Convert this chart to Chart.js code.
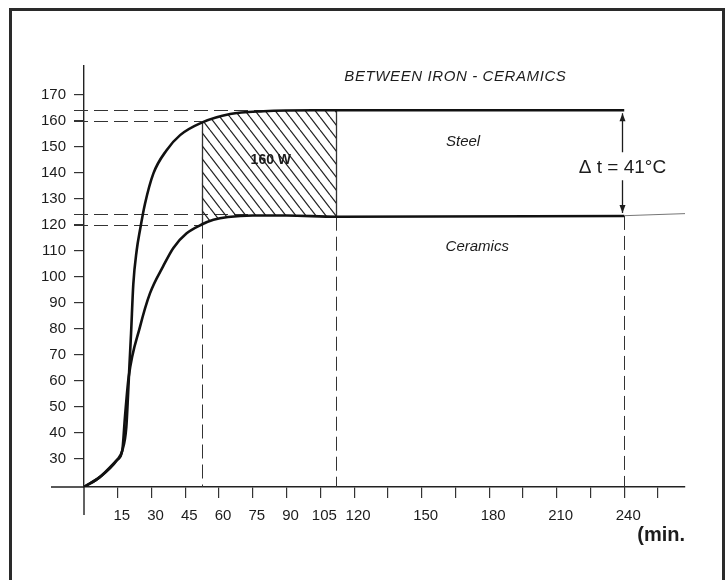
<!DOCTYPE html>
<html>
<head>
<meta charset="utf-8">
<title>Between iron - ceramics</title>
<script src="https://cdn.jsdelivr.net/npm/chart.js@4.4.1/dist/chart.umd.min.js"></script>
<style>
  html, body { margin: 0; padding: 0; background: #fff; }
  #wrap { width: 727px; height: 580px; }
</style>
</head>
<body>
<div id="wrap"><canvas id="chart" width="727" height="580"></canvas></div>
<script>
// heating curves (minutes, degrees C)
const steelMinutes = [0, 7, 14.7, 17, 18.8, 19.6, 20.2, 20.9, 21.9, 23.4, 24.9, 27.1, 30.8, 36.7, 42.7, 52.3, 64.9, 79.7, 101.9, 112, 240];
const steelTemps   = [19, 22.8, 29.4, 33, 42, 55, 66, 78, 97, 110, 118, 128, 139.6, 148.6, 154.4, 159.2, 162.5, 163.6, 164, 164, 164];

const ceramicMinutes = [0, 7, 14.7, 17, 18.2, 19.8, 24.9, 29.3, 35.2, 39.7, 45.6, 52.3, 57.5, 64, 75, 90, 112, 240];
const ceramicTemps   = [19, 22.8, 29.4, 33, 46, 61, 80.7, 93.5, 104, 111, 116.6, 120, 121.8, 122.9, 123.5, 123.5, 123, 123.3];

// thin line running on past 240 min
const tailMinutes = [240, 267];
const tailTemps   = [123.4, 124.2];

// hatched block (160 W) between the curves
const hatchFrom = 52.3;
const hatchTo = 112;

// axis ticks
const xTickValues = [15, 30, 45, 60, 75, 90, 105, 120, 135, 150, 165, 180, 195, 210, 225, 240, 255];
const xTickLabels = [15, 30, 45, 60, 75, 90, 105, 120, 150, 180, 210, 240];
const yTickValues = [30, 40, 50, 60, 70, 80, 90, 100, 110, 120, 130, 140, 150, 160, 170];

// dashed reference lines: [temp, run to minute] and [minute, drop from temp]
const levelLines = [[164, 80], [160, 52.3], [124, 75], [120, 52.3]];
const dropLines = [[52.3, 120], [112, 123], [240, 123.3]];

const FONT = '"Liberation Sans", Arial, Helvetica, sans-serif';
const INK = '#1c1c1c';

function points(xs, ys, from, to) {
  const out = [];
  xs.forEach((m, i) => {
    if (from === undefined || (m >= from && m <= to)) out.push({ x: m, y: ys[i] });
  });
  return out;
}

function makeHatch(ctx) {
  const tile = document.createElement('canvas');
  const w = 10, h = 13;
  tile.width = w;
  tile.height = h;
  const t = tile.getContext('2d');
  t.strokeStyle = '#222';
  t.lineWidth = 1.2;
  for (let k = -1; k <= 1; k++) {
    t.beginPath();
    t.moveTo(k * w, 0);
    t.lineTo(k * w + w, h);
    t.stroke();
  }
  return ctx.createPattern(tile, 'repeat');
}

const frame = {
  id: 'frame',
  beforeDraw(chart) {
    const { ctx } = chart;
    ctx.save();
    ctx.fillStyle = '#fff';
    ctx.fillRect(0, 0, chart.width, chart.height);
    ctx.strokeStyle = '#2a2a2a';
    ctx.lineWidth = 3;
    ctx.strokeRect(10.5, 9.5, 713, 620);
    ctx.restore();
  }
};

const refLines = {
  id: 'refLines',
  beforeDatasetsDraw(chart) {
    const { ctx, scales: { x, y } } = chart;
    ctx.save();
    ctx.strokeStyle = '#333';
    ctx.lineWidth = 1;
    ctx.setLineDash([14, 6]);
    levelLines.forEach(([temp, until]) => {
      const py = Math.round(y.getPixelForValue(temp)) + 0.5;
      ctx.beginPath();
      ctx.moveTo(x.left - 10, py);
      ctx.lineTo(x.getPixelForValue(until), py);
      ctx.stroke();
    });
    dropLines.forEach(([m, temp]) => {
      const px = Math.round(x.getPixelForValue(m)) + 0.5;
      ctx.beginPath();
      ctx.moveTo(px, y.getPixelForValue(temp));
      ctx.lineTo(px, y.bottom + (m === 240 ? 10 : 0));
      ctx.stroke();
    });
    // solid edges of the hatched block
    ctx.setLineDash([]);
    ctx.lineWidth = 1.3;
    [[hatchFrom, 120, 159.2], [hatchTo, 123, 164]].forEach(([m, lo, hi]) => {
      const px = Math.round(x.getPixelForValue(m)) + 0.5;
      ctx.beginPath();
      ctx.moveTo(px, y.getPixelForValue(lo));
      ctx.lineTo(px, y.getPixelForValue(hi));
      ctx.stroke();
    });
    ctx.restore();
  },
  afterDraw(chart) {
    const { ctx, scales: { x, y } } = chart;
    ctx.save();
    ctx.strokeStyle = '#222';
    ctx.lineWidth = 1.4;
    // axes run a little past the origin, like the drawing
    ctx.beginPath();
    ctx.moveTo(x.left, y.bottom);
    ctx.lineTo(x.left, y.bottom + 28);
    ctx.moveTo(x.left - 33, y.bottom);
    ctx.lineTo(x.left, y.bottom);
    ctx.stroke();
    ctx.restore();
  }
};

const notes = {
  id: 'notes',
  afterDatasetsDraw(chart) {
    const { ctx, scales: { x, y } } = chart;
    ctx.save();
    ctx.fillStyle = INK;
    ctx.textAlign = 'center';
    ctx.textBaseline = 'middle';

    ctx.font = 'italic 15px ' + FONT;
    ctx.letterSpacing = '0.6px';
    ctx.fillText('BETWEEN IRON - CERAMICS', x.getPixelForValue(165), y.getPixelForValue(176.7));
    ctx.letterSpacing = '0px';

    ctx.font = 'italic 15px ' + FONT;
    ctx.fillText('Steel', x.getPixelForValue(168.4), y.getPixelForValue(151.7));
    ctx.fillText('Ceramics', x.getPixelForValue(174.7), y.getPixelForValue(111.3));

    ctx.font = 'bold 14px ' + FONT;
    ctx.fillText('160 W', x.getPixelForValue(83), y.getPixelForValue(144.8));

    // delta arrow between the two plateaus
    const ax = Math.round(x.getPixelForValue(239.1)) + 0.5;
    const top = y.getPixelForValue(164) + 3;
    const bot = y.getPixelForValue(123.3) - 3;
    const mid = y.getPixelForValue(141.7);
    ctx.strokeStyle = INK;
    ctx.lineWidth = 1.3;
    ctx.beginPath();
    ctx.moveTo(ax, top);
    ctx.lineTo(ax, mid - 16);
    ctx.moveTo(ax, mid + 12);
    ctx.lineTo(ax, bot);
    ctx.stroke();
    ctx.beginPath();
    ctx.moveTo(ax, top);
    ctx.lineTo(ax - 3, top + 8);
    ctx.lineTo(ax + 3, top + 8);
    ctx.closePath();
    ctx.moveTo(ax, bot);
    ctx.lineTo(ax - 3, bot - 8);
    ctx.lineTo(ax + 3, bot - 8);
    ctx.closePath();
    ctx.fill();

    ctx.font = '19px ' + FONT;
    ctx.fillText('\u0394 t = 41\u00b0C', ax, mid);
    ctx.restore();
  }
};

const ctx = document.getElementById('chart').getContext('2d');

const curve = {
  borderColor: '#111',
  borderWidth: 2.6,
  pointRadius: 0,
  fill: false,
  cubicInterpolationMode: 'monotone'
};

const hidden = {
  borderColor: 'rgba(0,0,0,0)',
  borderWidth: 1,
  pointRadius: 0,
  cubicInterpolationMode: 'monotone'
};

new Chart(ctx, {
  type: 'line',
  data: {
    datasets: [
      Object.assign({ label: 'Steel', data: points(steelMinutes, steelTemps) }, curve),
      Object.assign({ label: 'Ceramics', data: points(ceramicMinutes, ceramicTemps) }, curve),
      { label: 'tail', data: points(tailMinutes, tailTemps), borderColor: '#666', borderWidth: 0.9, pointRadius: 0, fill: false },
      Object.assign({
        label: 'hatch top',
        data: points(steelMinutes, steelTemps, hatchFrom, hatchTo),
        backgroundColor: makeHatch(ctx),
        fill: '+1'
      }, hidden),
      Object.assign({
        label: 'hatch bottom',
        data: points(ceramicMinutes, ceramicTemps, hatchFrom, hatchTo),
        fill: false
      }, hidden)
    ]
  },
  options: {
    responsive: false,
    animation: false,
    layout: { padding: { left: 0, top: 66, right: 42, bottom: 33 } },
    plugins: {
      legend: { display: false },
      tooltip: { enabled: false }
    },
    scales: {
      x: {
        type: 'linear',
        min: 0,
        max: 267,
        afterBuildTicks: scale => { scale.ticks = xTickValues.map(v => ({ value: v })); },
        afterFit: scale => { scale.height = 60; },
        ticks: {
          autoSkip: false,
          maxRotation: 0,
          padding: 9,
          labelOffset: 4,
          color: INK,
          font: { family: FONT, size: 15 },
          callback: v => (xTickLabels.includes(v) ? String(v) : '')
        },
        grid: { drawOnChartArea: false, drawTicks: true, tickLength: 11, color: '#333', lineWidth: 1.2 },
        border: { display: true, color: '#222', width: 1.4 },
        title: {
          display: true,
          text: '(min.',
          align: 'end',
          color: INK,
          font: { family: FONT, size: 20, weight: 'bold' },
          padding: { top: 0, bottom: 0 }
        }
      },
      y: {
        type: 'linear',
        min: 19,
        max: 181,
        afterBuildTicks: scale => { scale.ticks = yTickValues.map(v => ({ value: v })); },
        afterFit: scale => { scale.width = 84; },
        ticks: {
          autoSkip: false,
          padding: 8,
          color: INK,
          font: { family: FONT, size: 15 }
        },
        grid: { drawOnChartArea: false, drawTicks: true, tickLength: 10, color: '#333', lineWidth: 1.2 },
        border: { display: true, color: '#222', width: 1.4 }
      }
    }
  },
  plugins: [frame, refLines, notes]
});
</script>
</body>
</html>
